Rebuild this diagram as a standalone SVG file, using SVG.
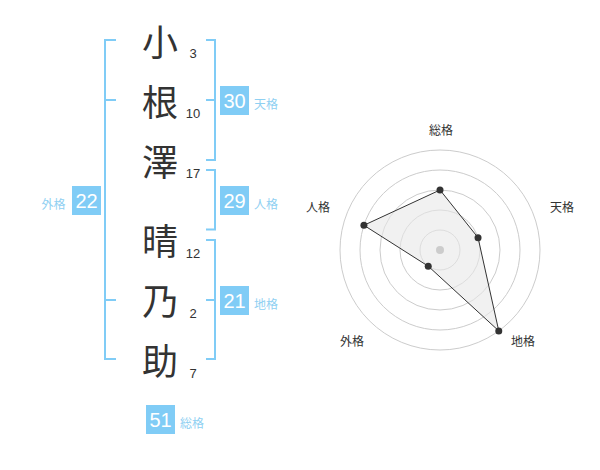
<svg xmlns="http://www.w3.org/2000/svg" width="600" height="470" viewBox="0 0 600 470">
<style>
.k{font-family:"Noto Sans CJK JP","Noto Sans",sans-serif;font-size:36px;fill:#333;text-anchor:middle}
.n{font-family:"Liberation Sans",Arial,sans-serif;font-size:13px;fill:#333;text-anchor:middle}
.br{fill:none;stroke:#80ccf6;stroke-width:2}
.box{fill:#80ccf6}
.bt{font-family:"Liberation Sans",Arial,sans-serif;font-size:20px;fill:#fff;text-anchor:middle}
.bl{font-family:"Noto Sans CJK JP","Noto Sans",sans-serif;font-size:12px;fill:#8fd0f2}
.rl{font-family:"Noto Sans CJK JP","Noto Sans",sans-serif;font-size:12px;fill:#333;text-anchor:middle}
.ring{fill:none;stroke:#ccc;stroke-width:1}
.pt{fill:#333}
</style>
<rect width="600" height="470" fill="#fff"/>
<g id="name">
<text class="k" x="160" y="56">小</text>
<text class="k" x="160" y="116">根</text>
<text class="k" x="160" y="176">澤</text>
<text class="k" x="160" y="255">晴</text>
<text class="k" x="160" y="315">乃</text>
<text class="k" x="160" y="375">助</text>
</g>
<g id="strokes">
<text class="n" x="193" y="57.5">3</text>
<text class="n" x="193" y="117.5">10</text>
<text class="n" x="193" y="177.5">17</text>
<text class="n" x="193" y="257.5">12</text>
<text class="n" x="193" y="317.5">2</text>
<text class="n" x="193" y="377.5">7</text>
</g>
<g id="connectors">
<path class="br" d="M116 40H105V359H116M105 100H116M105 300H116"/>
<path class="br" d="M206 40H215V160H206M215 100H206"/>
<path class="br" d="M206 170H215V229.5H206"/>
<path class="br" d="M206 240H215V359H206M215 300H206"/>
</g>
<g id="tenkaku">
<rect class="box" x="220" y="86" width="29" height="29"/>
<text class="bt" x="234.5" y="108.3">30</text>
<text class="bl" x="254" y="108.5">天格</text>
</g>
<g id="jinkaku">
<rect class="box" x="220" y="186" width="29" height="29"/>
<text class="bt" x="234.5" y="208.3">29</text>
<text class="bl" x="254" y="208.5">人格</text>
</g>
<g id="chikaku">
<rect class="box" x="220" y="286" width="29" height="29"/>
<text class="bt" x="234.5" y="308.3">21</text>
<text class="bl" x="254" y="308.5">地格</text>
</g>
<g id="gaikaku">
<rect class="box" x="72" y="186" width="29" height="29"/>
<text class="bt" x="86.5" y="208.3">22</text>
<text class="bl" x="41.5" y="208.5">外格</text>
</g>
<g id="soukaku">
<rect class="box" x="146" y="405" width="29" height="29"/>
<text class="bt" x="160.5" y="427.3">51</text>
<text class="bl" x="180" y="427.5">総格</text>
</g>
<g id="radar">
<circle class="ring" cx="440" cy="250" r="20"/>
<circle class="ring" cx="440" cy="250" r="40"/>
<circle class="ring" cx="440" cy="250" r="60"/>
<circle class="ring" cx="440" cy="250" r="80"/>
<circle class="ring" cx="440" cy="250" r="100"/>
<polygon points="440,190 478.04,237.64 498.78,330.9 428.24,266.18 363.92,225.28" fill="#e8e8e8" fill-opacity="0.6" stroke="#333" stroke-width="1"/>
<circle cx="440" cy="250" r="4" fill="#ccc"/>
<circle class="pt" cx="440" cy="190" r="3.5"/>
<circle class="pt" cx="478.04" cy="237.64" r="3.5"/>
<circle class="pt" cx="498.78" cy="330.9" r="3.5"/>
<circle class="pt" cx="428.24" cy="266.18" r="3.5"/>
<circle class="pt" cx="363.92" cy="225.28" r="3.5"/>
<text class="rl" x="441" y="135">総格</text>
<text class="rl" x="562" y="212">天格</text>
<text class="rl" x="523" y="346">地格</text>
<text class="rl" x="352" y="346">外格</text>
<text class="rl" x="318" y="212">人格</text>
</g>
</svg>
